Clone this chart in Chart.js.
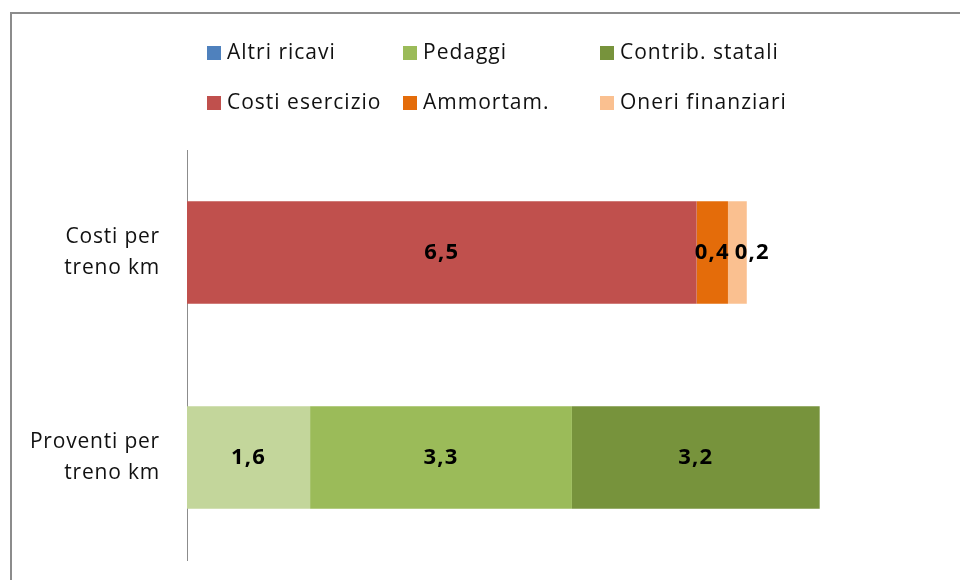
<!DOCTYPE html>
<html>
<head>
<meta charset="utf-8">
<script src="https://cdn.jsdelivr.net/npm/chart.js@4/dist/chart.umd.min.js"></script>
<style>
    html, body { margin: 0; padding: 0; background: #fff; overflow: hidden; }
    #pagina { position: relative; width: 960px; height: 580px; overflow: hidden; }
    #frame { position: absolute; left: 10px; top: 12px; width: 950px; height: 568px; border-top: 2px solid #8c8c8c; border-left: 2px solid #8c8c8c; box-sizing: border-box; }
    #wrap { position: absolute; left: 0; top: 0; width: 1000px; height: 600px; }
    #legenda { position: absolute; left: 0; top: 0; font-family: "Open Sans", Lato, sans-serif; font-size: 21px; letter-spacing: 1px; color: #111; }
    .item { position: absolute; white-space: nowrap; line-height: 22px; }
    .box { position: absolute; left: 0; top: 5px; width: 14px; height: 14px; }
    .item span.txt { position: absolute; left: 20px; top: -1px; }
</style>
</head>
<body>
<div id="pagina">
    <div id="frame"></div>
    <div id="wrap"><canvas id="myChart" width="1000" height="600"></canvas></div>
    <div id="legenda"></div>
</div>
<script>
const categorie = [['Costi per', 'treno km'], ['Proventi per', 'treno km']];
const serie = ['Altri ricavi', 'Pedaggi', 'Contrib. statali', 'Costi esercizio', 'Ammortam.', 'Oneri finanziari'];
const altriRicavi = [null, 1.57];
const pedaggi = [null, 3.34];
const contribStatali = [null, 3.16];
const costiEsercizio = [6.5, null];
const ammortam = [0.40, null];
const oneriFinanziari = [0.24, null];
const valori = [altriRicavi, pedaggi, contribStatali, costiEsercizio, ammortam, oneriFinanziari];

const coloriBarre = ['#c3d69b', '#9bbb59', '#77933c', '#c0504d', '#e46c0a', '#fac090'];
const coloriLegenda = ['#4f81bd', '#9bbb59', '#77933c', '#c0504d', '#e46c0a', '#fac090'];

// legenda in 3 colonne, come in Excel
const legenda = document.getElementById('legenda');
const colX = [207, 403, 600];
const rigaY = [41, 91];
serie.forEach((nome, i) => {
    const el = document.createElement('div');
    el.className = 'item';
    el.style.left = colX[i % 3] + 'px';
    el.style.top = rigaY[Math.floor(i / 3)] + 'px';
    el.innerHTML = '<div class="box" style="background:' + coloriLegenda[i] + '"></div><span class="txt">' + nome + '</span>';
    legenda.appendChild(el);
});

// spaziatura dei caratteri per le etichette dell'asse
const spaziatura = {
    id: 'spaziatura',
    beforeDraw(chart) { chart.ctx.letterSpacing = '0.8px'; },
    afterDraw(chart) { chart.ctx.letterSpacing = '0px'; }
};

// etichette dentro i segmenti, spostate a destra se si sovrappongono
const etichette = {
    id: 'etichette',
    afterDatasetsDraw(chart) {
        const ctx = chart.ctx;
        ctx.save();
        ctx.font = 'bold 22px "Open Sans", Lato, sans-serif';
        ctx.letterSpacing = '1.2px';
        ctx.fillStyle = '#000';
        ctx.textBaseline = 'middle';
        ctx.textAlign = 'center';
        categorie.forEach((c, j) => {
            let ultimoDestro = -Infinity;
            chart.data.datasets.forEach((ds, i) => {
                const v = ds.data[j];
                if (v === null || v === undefined) return;
                const bar = chart.getDatasetMeta(i).data[j];
                const testo = v.toFixed(1).replace('.', ',');
                const w = ctx.measureText(testo).width;
                let cx = (bar.x + bar.base) / 2;
                if (cx - w / 2 < ultimoDestro + 5) cx = ultimoDestro + 5 + w / 2;
                ctx.fillText(testo, cx, bar.y);
                ultimoDestro = cx + w / 2;
            });
        });
        ctx.restore();
    }
};

const ctx = document.getElementById('myChart').getContext('2d');
new Chart(ctx, {
    type: 'bar',
    data: {
        labels: categorie,
        datasets: serie.map((nome, i) => ({
            label: nome,
            data: valori[i],
            backgroundColor: coloriBarre[i],
            borderWidth: 0,
            barPercentage: 0.5,
            categoryPercentage: 1.0
        }))
    },
    options: {
        indexAxis: 'y',
        responsive: false,
        animation: false,
        layout: { padding: { top: 150, right: 29, bottom: 40, left: 0 } },
        scales: {
            x: {
                stacked: true,
                display: false,
                min: 0,
                max: 10
            },
            y: {
                stacked: true,
                afterFit(scale) {
                    scale.width = 187;
                    scale.paddingTop = 0;
                    scale.paddingBottom = 0;
                },
                grid: { display: true, drawOnChartArea: false, drawTicks: false },
                border: { display: true, color: '#8c8c8c', width: 1 },
                ticks: {
                    padding: 27,
                    color: '#111',
                    font: { family: '"Open Sans", Lato, sans-serif', size: 21, lineHeight: 1.48 }
                }
            }
        },
        plugins: {
            legend: { display: false },
            tooltip: { enabled: false }
        }
    },
    plugins: [spaziatura, etichette]
});
</script>
</body>
</html>
